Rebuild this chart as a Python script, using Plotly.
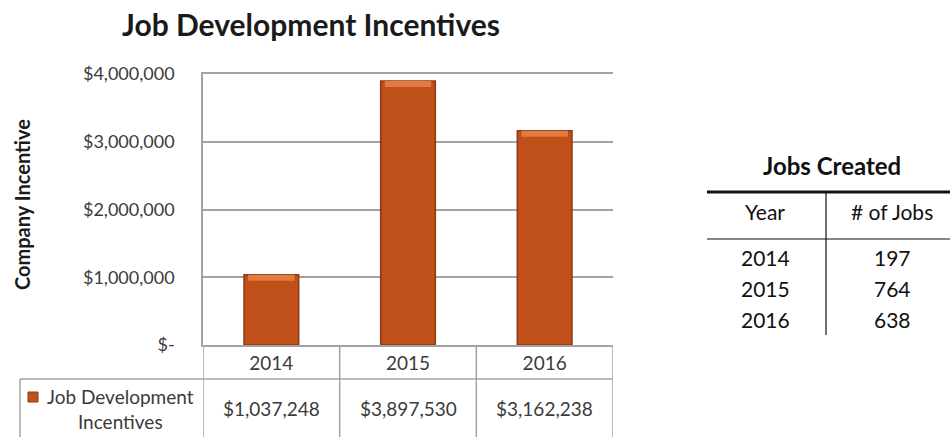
import plotly.graph_objects as go

# ---- data ----
years = ["2014", "2015", "2016"]
incentives = [1037248, 3897530, 3162238]
jobs = [197, 764, 638]
y_ticks = [0, 1000000, 2000000, 3000000, 4000000]

W, H = 950, 437


def px(x):
    return x / W


def py(y):
    return 1 - y / H


FONT = "Lato"
TXT = "#3b3b3b"
GRID = "#a3a3a3"
BAR = "#C0501A"
BAR_EDGE = "#8E3A10"
BAR_TOP = "#E27B43"

plot_left, plot_right = 203, 613
plot_top, plot_bottom = 74, 345

fig = go.Figure()

# main bars
fig.add_trace(go.Bar(
    x=years, y=incentives, width=0.4,
    marker=dict(color=BAR, line=dict(color=BAR_EDGE, width=1.5)),
    hoverinfo="x+y", showlegend=False,
))
# bevel highlight along the top of each bar
bevel = 90000
fig.add_trace(go.Bar(
    x=years, y=[bevel] * len(years), base=[v - bevel for v in incentives],
    width=0.34,
    marker=dict(color=BAR_TOP, line=dict(width=0)),
    hoverinfo="skip", showlegend=False,
))

fig.update_layout(
    template="none",
    width=W, height=H,
    margin=dict(l=0, r=0, t=0, b=0, autoexpand=False),
    paper_bgcolor="white", plot_bgcolor="white",
    barmode="overlay",
    font=dict(family=FONT, color=TXT, size=18),
    showlegend=False,
    xaxis=dict(
        domain=[px(plot_left), px(plot_right)],
        type="category", range=[-0.5, 2.5],
        showline=True, linecolor=GRID, linewidth=1.5, mirror=True,
        showgrid=False, ticks="", ticklabelstandoff=0,
        tickfont=dict(family=FONT, size=19, color=TXT),
        automargin=False, fixedrange=True,
    ),
    yaxis=dict(
        domain=[py(plot_bottom), py(plot_top)],
        range=[0, 4000000],
        tickvals=y_ticks,
        ticktext=["$-" if v == 0 else f"${v:,.0f}" for v in y_ticks],
        showgrid=True, gridcolor=GRID, gridwidth=1.5,
        showline=True, linecolor=GRID, linewidth=1.5,
        zeroline=False, ticks="", ticklabelstandoff=23,
        tickfont=dict(family=FONT, size=18, color=TXT),
        automargin=False, fixedrange=True,
    ),
)

shapes = []
annotations = []


def label(x, y, text, size, color=TXT, xref="paper", **kw):
    annotations.append(dict(
        xref=xref, yref="paper", x=x, y=y, text=text, showarrow=False,
        xanchor="center", yanchor="middle",
        font=dict(family=FONT, size=size, color=color), **kw,
    ))


# ---- data table under the chart ----
row_top = 379
# column separators at category boundaries
for b in [-0.5, 0.5, 1.5, 2.5]:
    shapes.append(dict(type="line", xref="x", yref="paper",
                       x0=b, x1=b, y0=py(plot_bottom), y1=py(H + 5),
                       line=dict(color=GRID, width=1.5)))
# row divider and legend cell border
shapes.append(dict(type="line", xref="paper", yref="paper",
                   x0=px(20), x1=px(plot_right), y0=py(row_top), y1=py(row_top),
                   line=dict(color=GRID, width=1.5)))
shapes.append(dict(type="line", xref="paper", yref="paper",
                   x0=px(20), x1=px(20), y0=py(row_top), y1=py(H + 5),
                   line=dict(color=GRID, width=1.5)))
# legend key
shapes.append(dict(type="rect", xref="paper", yref="paper",
                   x0=px(28), x1=px(38), y0=py(402), y1=py(392),
                   fillcolor=BAR, line=dict(color=BAR_EDGE, width=1)))
label(px(120), py(409), "Job Development<br>Incentives", 19, align="center")
for i, v in enumerate(incentives):
    label(i, py(408), f"${v:,}", 19, xref="x")

# titles
label(px(311), py(24), "<b>Job Development Incentives</b>", 30, color="#1a1a1a")
label(px(22), py(205), "<b>Company Incentive</b>", 20, color="#1a1a1a",
      textangle=-90)

# ---- Jobs Created table ----
jt_left, jt_right, jt_div = 707, 950, 826
label(px(832), py(165), "<b>Jobs Created</b>", 24, color="#111111")
shapes.append(dict(type="line", xref="paper", yref="paper",
                   x0=px(jt_left), x1=px(jt_right), y0=py(192), y1=py(192),
                   line=dict(color="#111111", width=3)))
shapes.append(dict(type="line", xref="paper", yref="paper",
                   x0=px(jt_left), x1=px(jt_right), y0=py(239), y1=py(239),
                   line=dict(color="#111111", width=1.2)))
shapes.append(dict(type="line", xref="paper", yref="paper",
                   x0=px(jt_div), x1=px(jt_div), y0=py(192), y1=py(335),
                   line=dict(color="#111111", width=1.2)))
col_year, col_jobs = 765, 892
label(px(col_year), py(211), "Year", 21, color="#111111")
label(px(col_jobs), py(211), "# of Jobs", 21, color="#111111")
for i, (yr, n) in enumerate(zip(years, jobs)):
    yy = 257 + i * 31
    label(px(col_year), py(yy), yr, 21, color="#111111")
    label(px(col_jobs), py(yy), str(n), 21, color="#111111")

fig.update_layout(shapes=shapes, annotations=annotations)

fig.write_html("out.html", config={"displayModeBar": False})
